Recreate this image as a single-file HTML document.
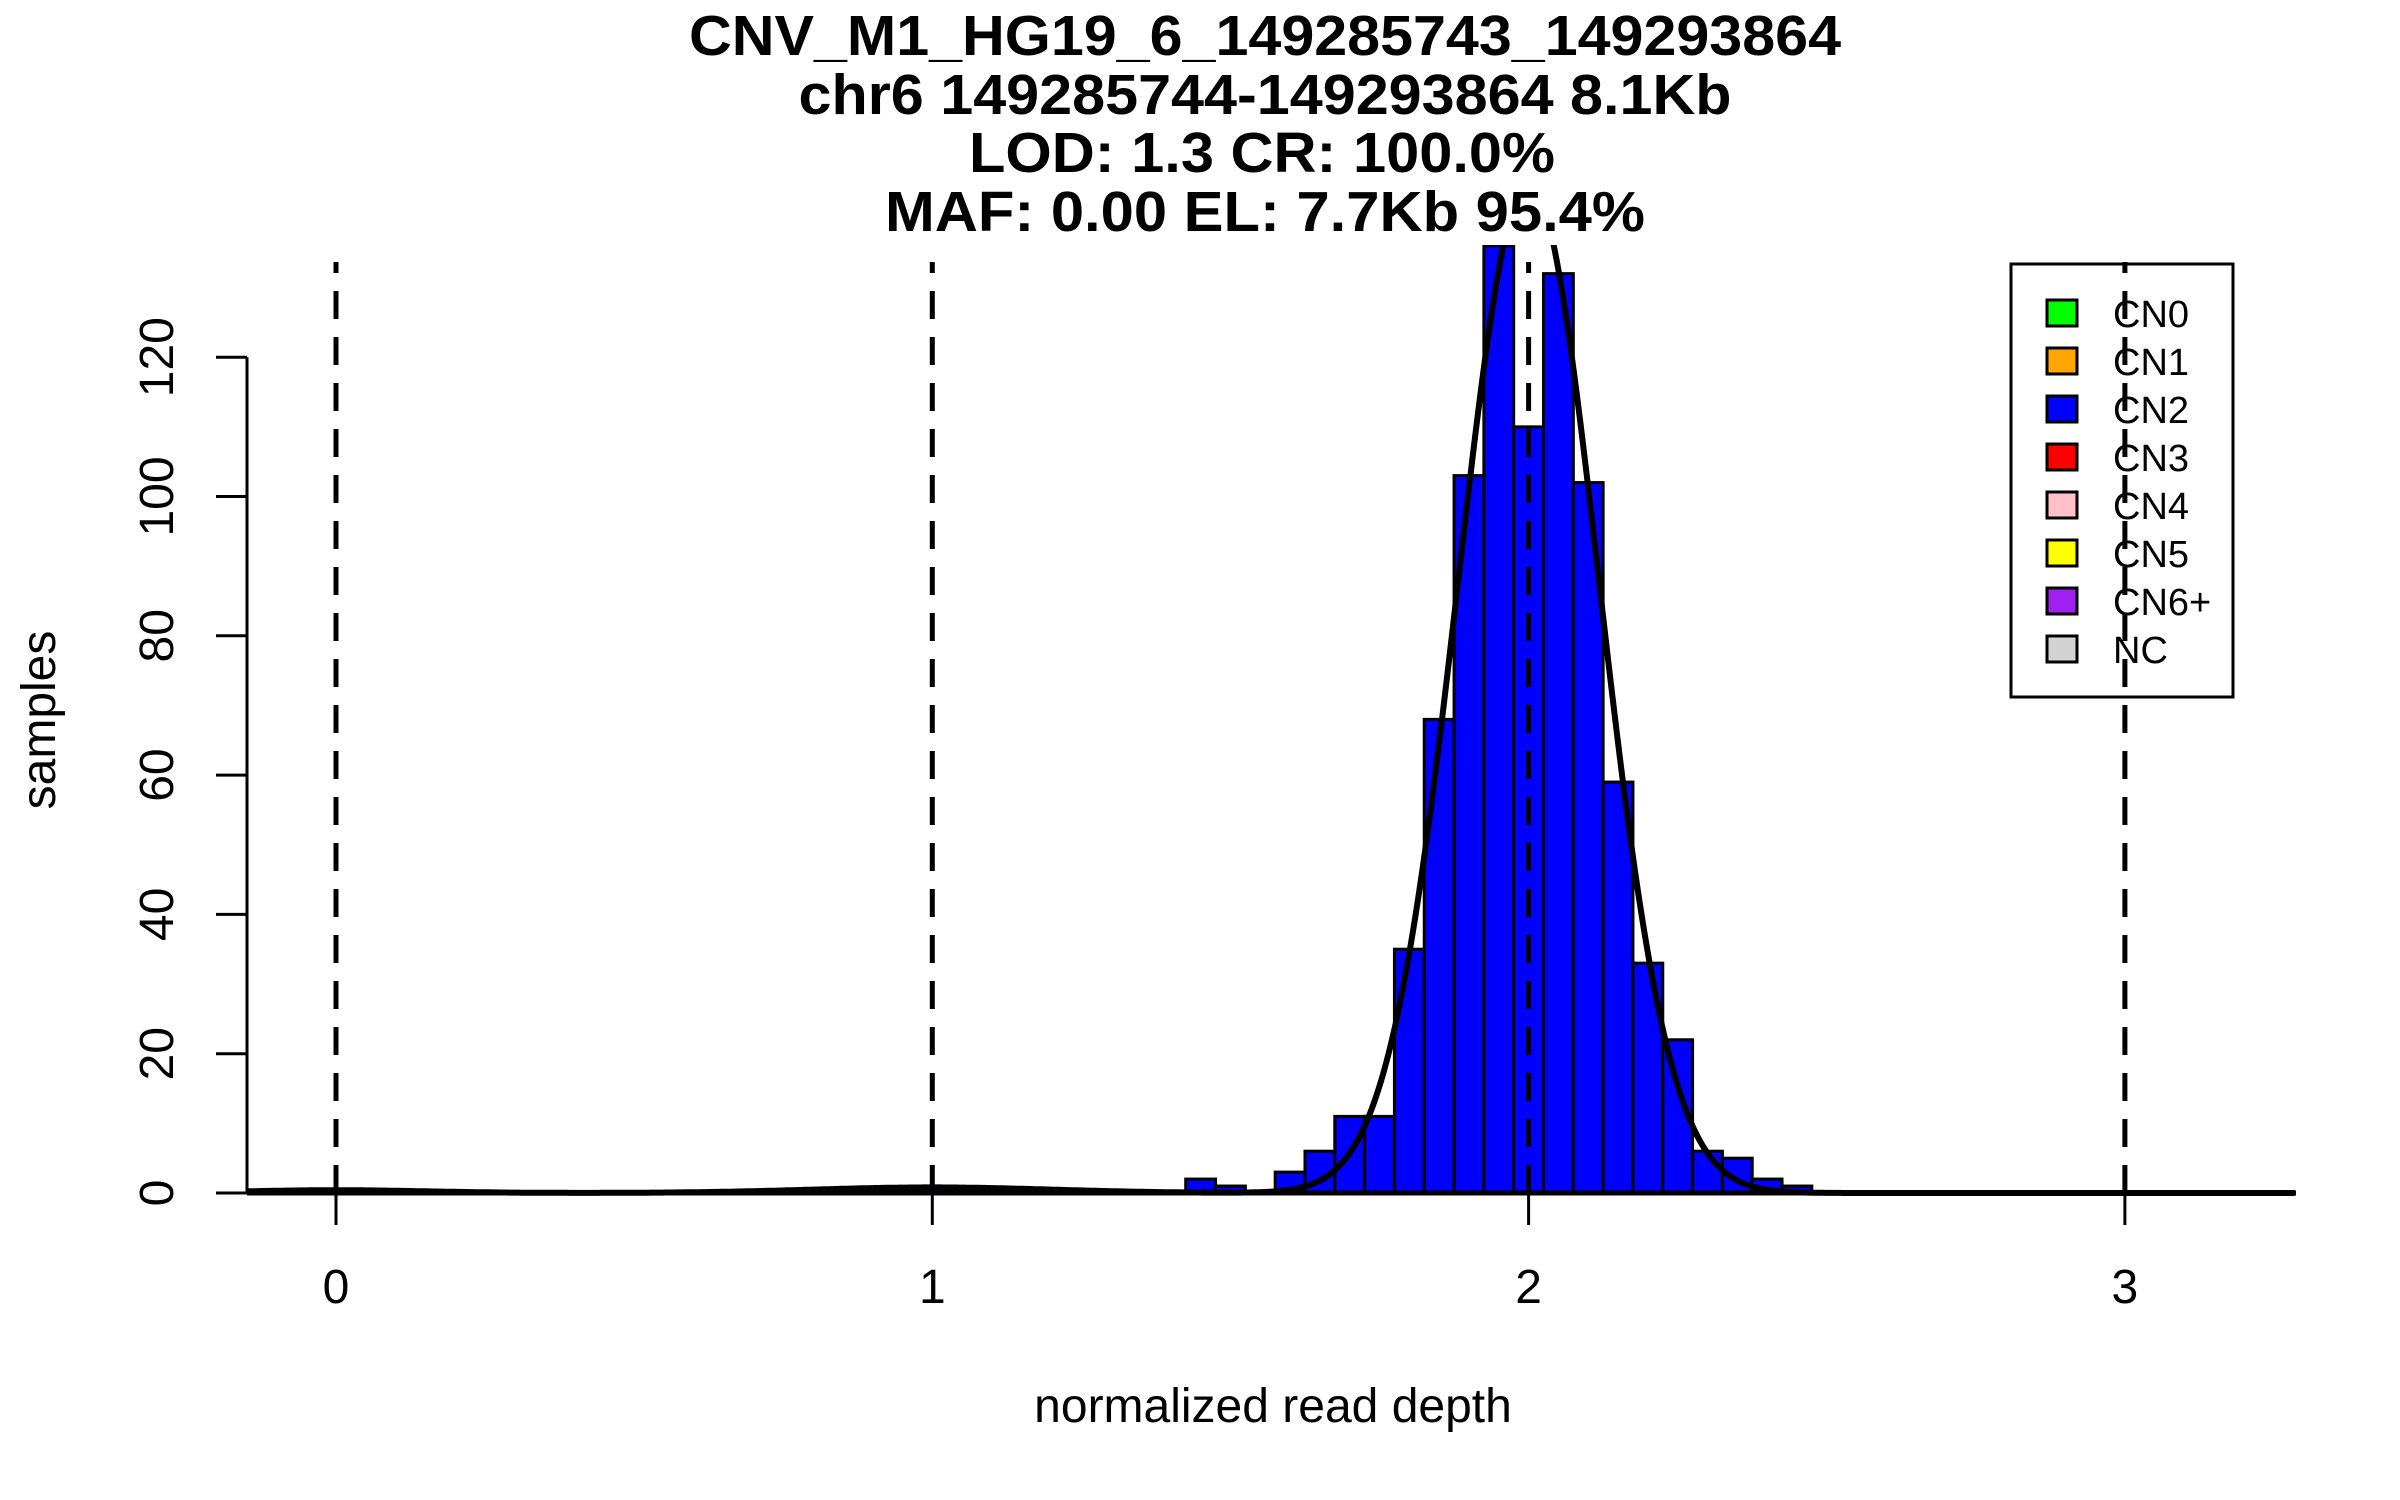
<!DOCTYPE html>
<html><head><meta charset="utf-8"><style>
html,body{margin:0;padding:0;background:#fff;}
svg{display:block;}
text{font-family:"Liberation Sans",Arial,sans-serif;fill:#000;}
</style></head><body>
<svg id="chart" xmlns="http://www.w3.org/2000/svg" width="2400" height="1500" viewBox="0 0 2400 1500">
<rect x="0" y="0" width="2400" height="1500" fill="#fff"/>
<g font-weight="bold" font-size="57" text-anchor="middle">
<text x="1265" y="55" textLength="1152" lengthAdjust="spacingAndGlyphs">CNV_M1_HG19_6_149285743_149293864</text>
<text x="1265" y="114" textLength="933" lengthAdjust="spacingAndGlyphs">chr6 149285744-149293864 8.1Kb</text>
<text x="1262" y="172" textLength="586" lengthAdjust="spacingAndGlyphs">LOD: 1.3 CR: 100.0%</text>
<text x="1265" y="231" textLength="760" lengthAdjust="spacingAndGlyphs">MAF: 0.00 EL: 7.7Kb 95.4%</text>
</g>
<defs><clipPath id="plotclip"><rect x="200" y="245" width="2110" height="960"/></clipPath></defs>
<g id="bars" clip-path="url(#plotclip)"></g>
<line x1="247" y1="1193" x2="2296" y2="1193" stroke="#000" stroke-width="5"/>
<g id="curve" clip-path="url(#plotclip)"></g>
<g id="legend"></g>
<g id="dashes"></g>
<g id="yaxis"></g>
<g id="xaxis"></g>
<text x="1273" y="1422" font-size="48" text-anchor="middle">normalized read depth</text>
<text x="0" y="0" font-size="48" text-anchor="middle" transform="translate(55,720) rotate(-90)">samples</text>
</svg>
<script>
const binLefts = [0.975,1.425,1.475,1.525,1.575,1.625,1.675,1.725,1.775,1.825,1.875,1.925,1.975,2.025,2.075,2.125,2.175,2.225,2.275,2.325,2.375,2.425];
const counts   = [1,    2,    1,    0,    3,    6,    11,   11,   35,   68,   103,  136,  110,  132,  102,  59,   33,   22,   6,    5,    2,    1];
const binWidth = 0.05;
const curveMeans = [0, 1, 2.0];
const curveSds = [0.15, 0.2, 0.118];
const curveAmps = [0.4, 0.8, 145];
const refLines = [0, 1, 2, 3];
const xTicks = [0, 1, 2, 3];
const yTicks = [0, 20, 40, 60, 80, 100, 120];
const legendLabels = ["CN0","CN1","CN2","CN3","CN4","CN5","CN6+","NC"];
const legendColors = ["#00ff00","#ffa500","#0000ff","#ff0000","#ffc0cb","#ffff00","#a020f0","#d3d3d3"];

const NS = "http://www.w3.org/2000/svg";
function X(v){ return 336 + v * 596.3; }
function Y(v){ return 1193 - v * 6.965; }
function mk(tag, attrs, parent){ const e = document.createElementNS(NS, tag); for (const k in attrs) e.setAttribute(k, attrs[k]); parent.appendChild(e); return e; }

const gb = document.getElementById('bars');
binLefts.forEach((b, i) => {
  const r = mk('rect', {x: X(b), y: Y(counts[i]), width: X(b + binWidth) - X(b), height: Y(0) - Y(counts[i]), fill: '#0000ff', stroke: '#000', 'stroke-width': 3}, gb);
  
  
});

const gc = document.getElementById('curve');
let d = '';
for (let px = 247; px <= 2296; px += 2) {
  const v = (px - 336) / 596.3;
  let h = 0;
  for (let k = 0; k < curveMeans.length; k++) h += curveAmps[k] * Math.exp(-Math.pow(v - curveMeans[k], 2) / (2 * curveSds[k] * curveSds[k]));
  d += (d ? 'L' : 'M') + px + ',' + Y(h).toFixed(1);
}
const cp = mk('path', {d: d, fill: 'none', stroke: '#000', 'stroke-width': 6}, gc);



const gl = document.getElementById('legend');
const box = mk('rect', {x: 2011, y: 264, width: 222, height: 433, fill: '#fff', stroke: '#000', 'stroke-width': 3}, gl);


legendLabels.forEach((lab, i) => {
  const cy = 313 + i * 48;
  const sw = mk('rect', {x: 2047, y: cy - 13, width: 30, height: 26, fill: legendColors[i], stroke: '#000', 'stroke-width': 3}, gl);
  
  
  const t = mk('text', {x: 2113, y: cy + 14, 'font-size': 38}, gl);
  t.textContent = lab;
  
  
});

const gd = document.getElementById('dashes');
refLines.forEach(v => {
  const l = mk('line', {x1: X(v), x2: X(v), y1: Y(0), y2: 262, stroke: '#000', 'stroke-width': 5, 'stroke-dasharray': '28 18'}, gd);
  
  
});

const gy = document.getElementById('yaxis');
const ya = mk('line', {x1: 247, x2: 247, y1: Y(yTicks[0]), y2: Y(yTicks[yTicks.length - 1]), stroke: '#000', 'stroke-width': 3}, gy);


yTicks.forEach(v => {
  const tk = mk('line', {x1: 216, x2: 247, y1: Y(v), y2: Y(v), stroke: '#000', 'stroke-width': 3}, gy);
  
  
  const t = mk('text', {x: 0, y: 0, 'font-size': 48, 'text-anchor': 'middle', transform: 'translate(173,' + Y(v) + ') rotate(-90)'}, gy);
  t.textContent = v;
  
  
});

const gx = document.getElementById('xaxis');
xTicks.forEach(v => {
  const tk = mk('line', {x1: X(v), x2: X(v), y1: 1193, y2: 1225, stroke: '#000', 'stroke-width': 3}, gx);
  
  
  const t = mk('text', {x: X(v), y: 1303, 'font-size': 48, 'text-anchor': 'middle'}, gx);
  t.textContent = v;
  
  
});
</script>
</body></html>
